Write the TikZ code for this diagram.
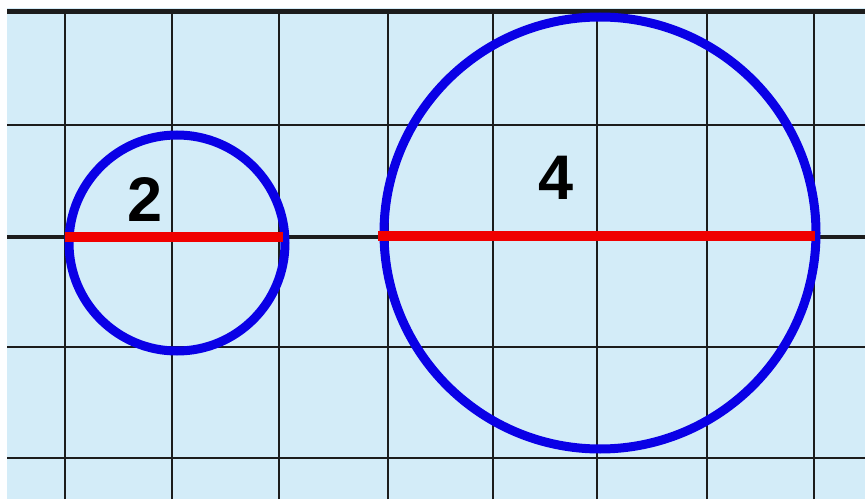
\documentclass[tikz,border=0pt]{standalone}
\usepackage{fontspec}
\setmainfont{Liberation Sans}
\definecolor{bgblue}{HTML}{D3ECF8}
\definecolor{gridc}{HTML}{1C1C1C}
\definecolor{cblue}{HTML}{0A00E6}
\definecolor{cred}{HTML}{F00000}
\begin{document}
\begin{tikzpicture}[x=1pt,y=1pt,
  gridline/.style={draw=gridc,line width=2.6pt},
  ring/.style={circle,draw=cblue,line width=9pt,inner sep=0pt,fill=none},
  diam/.style={draw=cred,line width=10pt},
  lbl/.style={font=\fontsize{63}{63}\selectfont\bfseries,inner sep=0pt,text=black}]
\useasboundingbox (0,0) rectangle (865,499);
\fill[white!96!bgblue] (0,0) rectangle (865,499);
\fill[bgblue] (7,0) rectangle (865,491);
% grid
\foreach \x in {65,172,279,388,493,597,707,814}
  \draw[gridline] (\x,0) -- (\x,487);
\foreach \y in {374,152,41}
  \draw[gridline] (7,\y) -- (865,\y);
\draw[gridline,line width=3.6pt] (7,262) -- (865,262);
\draw[gridline,line width=5pt] (7,487) -- (865,487);
% circles
\node[ring,minimum size=216pt] (c1) at (177,256) {};
\node[ring,minimum size=432pt] (c2) at (600,266) {};
% diameters
\coordinate (a1) at (65,262);
\coordinate (b1) at (283,262);
\coordinate (a2) at (378,263);
\coordinate (b2) at (815,263);
\draw[diam] (a1) -- (b1);
\draw[diam] (a2) -- (b2);
% labels
\node[lbl] (t2) at (145,299) {2};
\node[lbl] (t4) at (556,321) {4};
\end{tikzpicture}
\end{document}
